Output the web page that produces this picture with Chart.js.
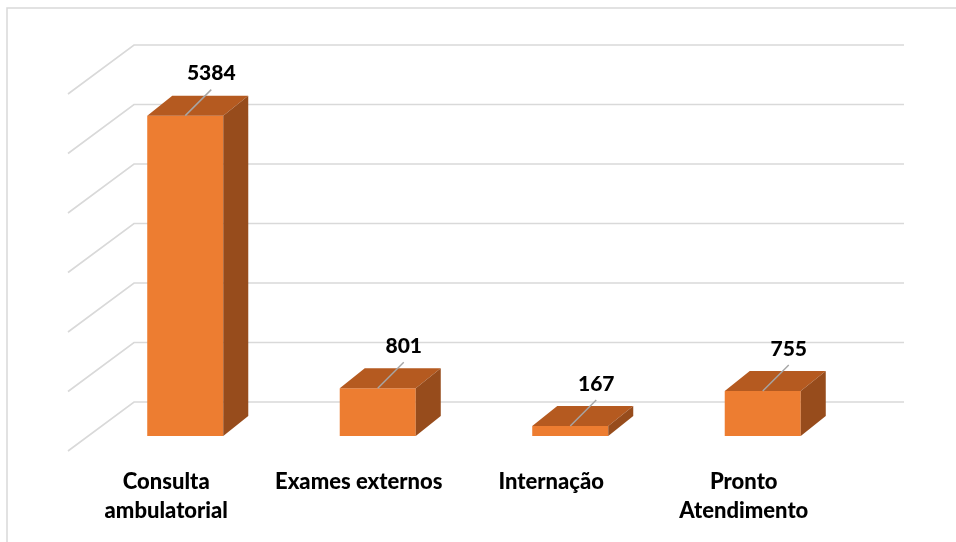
<!DOCTYPE html>
<html>
<head>
<meta charset="utf-8">
<script src="https://cdn.jsdelivr.net/npm/chart.js@4"></script>
<style>
  html, body { margin: 0; padding: 0; background: #ffffff; }
  #wrap { width: 956px; height: 542px; position: relative; }
</style>
</head>
<body>
<div id="wrap"><canvas id="c"></canvas></div>
<script>
const categories = [['Consulta', 'ambulatorial'], 'Exames externos', 'Internação', ['Pronto', 'Atendimento']];
const values = [5384, 801, 167, 755];
const valueTicks = [0, 1000, 2000, 3000, 4000, 5000, 6000];

const FRONT = '#ED7D31';
const TOP = '#B55A20';
const SIDE = '#974C1C';
const GRID = '#d9d9d9';
const DX = 25, DY = -20;

const threeD = {
  id: 'threeD',
  beforeDraw(chart) {
    const ctx = chart.ctx;
    ctx.save();
    ctx.strokeStyle = GRID;
    ctx.lineWidth = 1.5;
    ctx.strokeRect(7, 8, 1200, 1200);
    ctx.restore();
  },
  beforeDatasetsDraw(chart) {
    const ctx = chart.ctx;
    const y = chart.scales.y;
    ctx.save();
    ctx.strokeStyle = GRID;
    ctx.lineWidth = 1.6;
    valueTicks.forEach(v => {
      const yb = y.getPixelForValue(v) - 34;
      ctx.beginPath();
      ctx.moveTo(68, yb + 49);
      ctx.lineTo(134, yb);
      ctx.lineTo(904, yb);
      ctx.stroke();
    });
    ctx.restore();
  },
  afterDatasetsDraw(chart) {
    const ctx = chart.ctx;
    const meta = chart.getDatasetMeta(0);
    const data = chart.data.datasets[0].data;
    ctx.save();
    meta.data.forEach((bar, i) => {
      const p = bar.getProps(['x', 'y', 'base', 'width'], true);
      const L = p.x - p.width / 2, R = p.x + p.width / 2;
      ctx.fillStyle = TOP;
      ctx.beginPath();
      ctx.moveTo(L, p.y);
      ctx.lineTo(L + DX, p.y + DY);
      ctx.lineTo(R + DX, p.y + DY);
      ctx.lineTo(R, p.y);
      ctx.closePath();
      ctx.fill();
      ctx.fillStyle = SIDE;
      ctx.beginPath();
      ctx.moveTo(R, p.y);
      ctx.lineTo(R + DX, p.y + DY);
      ctx.lineTo(R + DX, p.base + DY);
      ctx.lineTo(R, p.base);
      ctx.closePath();
      ctx.fill();
      ctx.strokeStyle = '#a6a6a6';
      ctx.lineWidth = 1.5;
      ctx.beginPath();
      ctx.moveTo(p.x, p.y);
      ctx.lineTo(p.x + 26, p.y - 26);
      ctx.stroke();
      ctx.fillStyle = '#000000';
      ctx.font = '900 21px Lato';
      ctx.textAlign = 'center';
      ctx.textBaseline = 'middle';
      ctx.fillText(String(data[i]), p.x + 26, p.y - 42);
    });
    ctx.restore();
  }
};

new Chart(document.getElementById('c'), {
  type: 'bar',
  data: {
    labels: categories,
    datasets: [{
      data: values,
      backgroundColor: FRONT,
      borderWidth: 0,
      barPercentage: 0.395,
      categoryPercentage: 1.0
    }]
  },
  options: {
    responsive: true,
    maintainAspectRatio: false,
    animation: false,
    devicePixelRatio: 1,
    layout: { padding: { left: 89, right: 97, top: 79, bottom: 0 } },
    plugins: { legend: { display: false }, tooltip: { enabled: false } },
    scales: {
      x: {
        grid: { display: false },
        border: { display: false },
        ticks: {
          color: '#000000',
          font: { family: 'Lato', size: 22, weight: '900', lineHeight: 1.3 },
          padding: 24,
          labelOffset: -19,
          maxRotation: 0,
          autoSkip: false
        },
        afterFit(scale) { scale.height = 106; }
      },
      y: {
        display: false,
        min: 0,
        max: 6000
      }
    }
  },
  plugins: [threeD]
});
</script>
</body>
</html>
